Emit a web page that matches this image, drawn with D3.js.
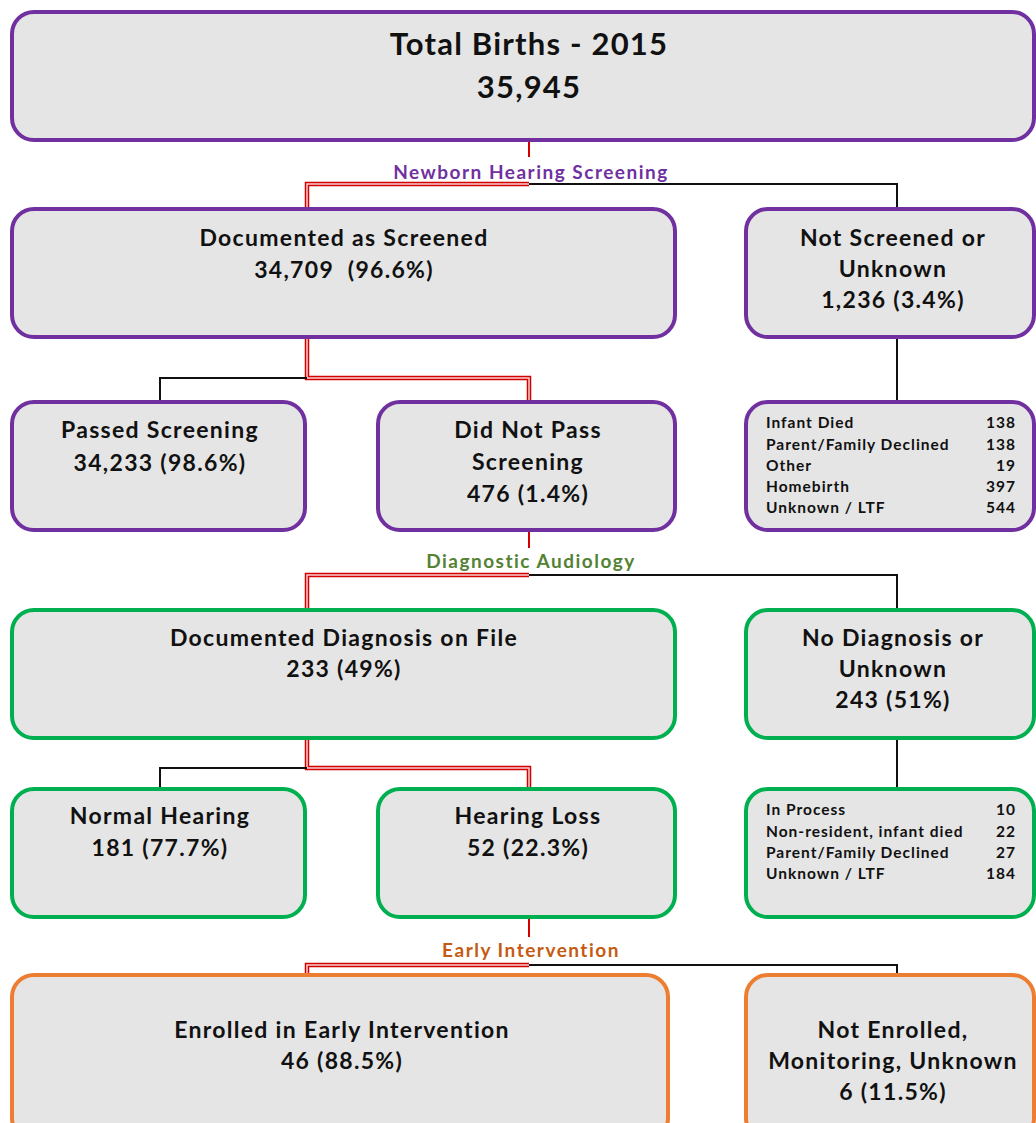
<!DOCTYPE html>
<html>
<head>
<meta charset="utf-8">
<script src="https://cdn.jsdelivr.net/npm/d3@7"></script>
<style>
  body { margin: 0; background: #fff; }
  svg { display: block; }
  text { font-family: Lato, "Open Sans", sans-serif; font-weight: bold; }
</style>
</head>
<body>
<script>
// ---- data ----
var stages = ["Newborn Hearing Screening", "Diagnostic Audiology", "Early Intervention"];
var stageColors = ["#7030a0", "#00b050", "#ed7d31"];
var stageLabelColors = ["#7030a0", "#548235", "#c55a11"];

var boxTitles = [
  ["Total Births - 2015"],
  ["Documented as Screened"],
  ["Not Screened or", "Unknown"],
  ["Passed Screening"],
  ["Did Not Pass", "Screening"],
  ["Documented Diagnosis on File"],
  ["No Diagnosis or", "Unknown"],
  ["Normal Hearing"],
  ["Hearing Loss"],
  ["Enrolled in Early Intervention"],
  ["Not Enrolled,", "Monitoring, Unknown"]
];
var boxValues = ["35,945", "34,709  (96.6%)", "1,236 (3.4%)", "34,233 (98.6%)", "476 (1.4%)",
  "233 (49%)", "243 (51%)", "181 (77.7%)", "52 (22.3%)", "46 (88.5%)", "6 (11.5%)"];

var notScreenedReasons = ["Infant Died", "Parent/Family Declined", "Other", "Homebirth", "Unknown / LTF"];
var notScreenedCounts = [138, 138, 19, 397, 544];
var noDiagReasons = ["In Process", "Non-resident, infant died", "Parent/Family Declined", "Unknown / LTF"];
var noDiagCounts = [10, 22, 27, 184];

// ---- layout ----
var w = 1036, h = 1123;
var svg = d3.select("body").append("svg").attr("width", w).attr("height", h);

var color = d3.scaleOrdinal().domain(d3.range(3)).range(stageColors);

// x0, y0, x1, y1, stage, title font, line gap, text centre x
var boxPos = [
  [12, 12, 1034, 140, 0, 31, 43, 529],
  [12, 209, 675, 337, 0, 23, 32, 344],
  [746, 209, 1034, 337, 0, 23, 31, 893],
  [12, 402, 305, 530, 0, 23, 33, 160],
  [378, 402, 675, 530, 0, 23, 32, 528],
  [12, 610, 675, 738, 1, 23, 31, 344],
  [746, 610, 1034, 738, 1, 23, 31, 893],
  [12, 789, 305, 917, 1, 23, 32, 160],
  [378, 789, 675, 917, 1, 23, 32, 528],
  [12, 975, 668, 1140, 2, 23, 31, 342],
  [746, 975, 1034, 1140, 2, 23, 31, 893]
];
var textTop = [44, 238, 238, 430, 430, 638, 638, 816, 816, 1030, 1030];
var listBoxes = [
  {pos: [746, 402, 1034, 530, 0], names: notScreenedReasons, counts: notScreenedCounts, y0: 423, gap: 21.2},
  {pos: [746, 789, 1034, 917, 1], names: noDiagReasons, counts: noDiagCounts, y0: 810, gap: 21.3}
];

// connectors: [points], kind
var line = d3.line();
var connectors = [
  {pts: [[529, 140], [529, 157]], kind: "red"},
  {pts: [[307, 209], [307, 184], [529, 184]], kind: "double"},
  {pts: [[529, 184], [897, 184], [897, 209]], kind: "black"},
  {pts: [[307, 337], [307, 378], [529, 378], [529, 402]], kind: "double"},
  {pts: [[307, 378], [160, 378], [160, 402]], kind: "black"},
  {pts: [[897, 337], [897, 402]], kind: "black"},
  {pts: [[529, 530], [529, 548]], kind: "red"},
  {pts: [[307, 610], [307, 575], [529, 575]], kind: "double"},
  {pts: [[529, 575], [897, 575], [897, 610]], kind: "black"},
  {pts: [[307, 738], [307, 768], [529, 768], [529, 789]], kind: "double"},
  {pts: [[307, 768], [160, 768], [160, 789]], kind: "black"},
  {pts: [[897, 738], [897, 789]], kind: "black"},
  {pts: [[529, 917], [529, 937]], kind: "red"},
  {pts: [[307, 975], [307, 965], [529, 965]], kind: "double"},
  {pts: [[529, 965], [897, 965], [897, 975]], kind: "black"}
];
var stageLabelY = [172, 561, 950];

var gLines = svg.append("g").attr("fill", "none");
connectors.forEach(function(c) {
  if (c.kind == "double") {
    gLines.append("path").attr("d", line(c.pts)).attr("stroke", "#d40000").attr("stroke-width", 4.5);
    gLines.append("path").attr("d", line(c.pts)).attr("stroke", "#f7d0d0").attr("stroke-width", 1.5);
  } else {
    gLines.append("path").attr("d", line(c.pts))
      .attr("stroke", c.kind == "red" ? "#d40000" : "#111")
      .attr("stroke-width", 2);
  }
});

// stage labels
svg.selectAll("text.stage")
  .data(stages)
  .enter()
  .append("text")
  .attr("class", "stage")
  .attr("x", 531)
  .attr("y", function(d, i) { return stageLabelY[i]; })
  .attr("dy", "0.35em")
  .attr("text-anchor", "middle")
  .attr("font-size", 19)
  .attr("letter-spacing", 1.5)
  .attr("fill", function(d, i) { return stageLabelColors[i]; })
  .text(function(d) { return d; });

// boxes
var boxes = svg.selectAll("g.box")
  .data(boxTitles)
  .enter()
  .append("g")
  .attr("class", "box");

boxes.append("rect")
  .attr("x", function(d, i) { return boxPos[i][0]; })
  .attr("y", function(d, i) { return boxPos[i][1]; })
  .attr("width", function(d, i) { return boxPos[i][2] - boxPos[i][0]; })
  .attr("height", function(d, i) { return boxPos[i][3] - boxPos[i][1]; })
  .attr("rx", 22)
  .attr("fill", "#e5e5e5")
  .attr("stroke", function(d, i) { return color(boxPos[i][4]); })
  .attr("stroke-width", 4);

boxes.each(function(d, i) {
  var p = boxPos[i];
  var lines = d.concat([boxValues[i]]);
  d3.select(this).selectAll("text")
    .data(lines)
    .enter()
    .append("text")
    .attr("x", p[7])
    .attr("y", function(t, j) { return textTop[i] + j * p[6]; })
    .attr("dy", "0.35em")
    .attr("text-anchor", "middle")
    .attr("font-size", p[5])
    .attr("letter-spacing", i == 0 ? 1.2 : 1.3)
    .attr("fill", "#111")
    .style("white-space", "pre")
    .text(function(t) { return t; });
});

// reason list boxes
listBoxes.forEach(function(b) {
  var p = b.pos;
  var g = svg.append("g");
  g.append("rect")
    .attr("x", p[0]).attr("y", p[1])
    .attr("width", p[2] - p[0]).attr("height", p[3] - p[1])
    .attr("rx", 22)
    .attr("fill", "#e5e5e5")
    .attr("stroke", color(p[4]))
    .attr("stroke-width", 4);
  g.selectAll("text.name")
    .data(b.names)
    .enter()
    .append("text")
    .attr("x", 766)
    .attr("y", function(d, i) { return b.y0 + i * b.gap; })
    .attr("dy", "0.35em")
    .attr("font-size", 15.5)
    .attr("letter-spacing", 1)
    .attr("fill", "#111")
    .text(function(d) { return d; });
  g.selectAll("text.count")
    .data(b.counts)
    .enter()
    .append("text")
    .attr("x", 1016)
    .attr("y", function(d, i) { return b.y0 + i * b.gap; })
    .attr("dy", "0.35em")
    .attr("text-anchor", "end")
    .attr("font-size", 15.5)
    .attr("letter-spacing", 1)
    .attr("fill", "#111")
    .text(function(d) { return d; });
});
</script>
</body>
</html>
